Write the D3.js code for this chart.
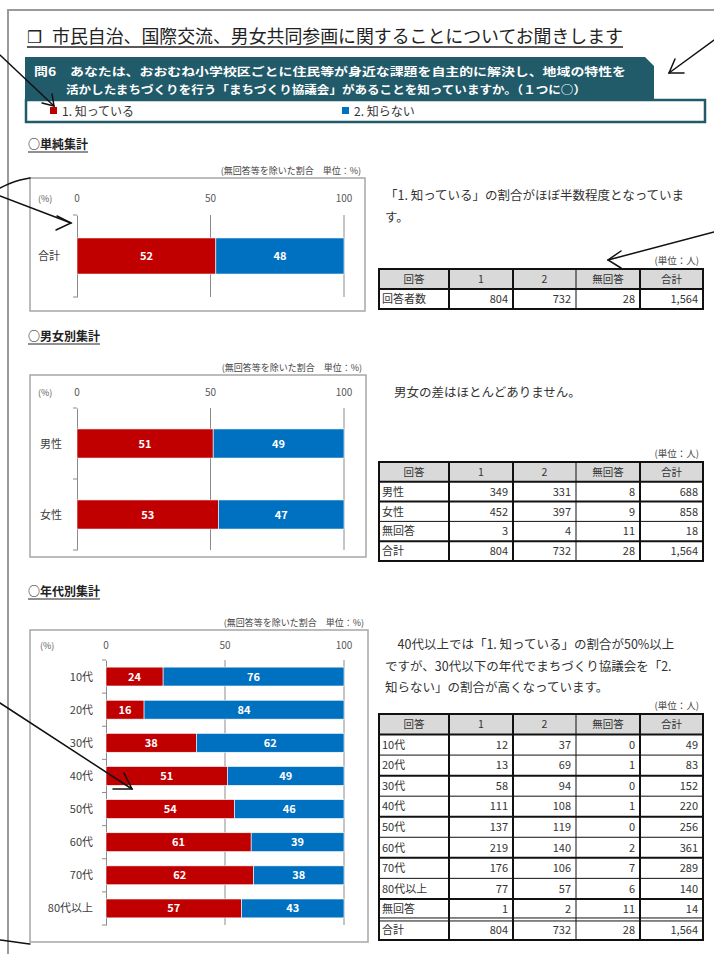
<!DOCTYPE html>
<html><head><meta charset="utf-8">
<script src="https://cdn.jsdelivr.net/npm/d3@7"></script>
<style>
html,body{margin:0;padding:0;background:#fff;}
svg{display:block;font-family:"Noto Sans CJK JP","Noto Sans",sans-serif;}
</style></head><body>
<svg id="page" width="714" height="954"></svg>
<script>
// ---------- data ----------
const titleText = "市民自治、国際交流、男女共同参画に関することについてお聞きします";
const questionLines = ["問6　あなたは、おおむね小学校区ごとに住民等が身近な課題を自主的に解決し、地域の特性を",
                       "活かしたまちづくりを行う「まちづくり協議会」があることを知っていますか。（１つに○）"];
const legendLabels = ["1. 知っている", "2. 知らない"];
const seriesKeys = ["know", "notKnow"];
const seriesColors = ["#c00000", "#0070c0"];
const xTicks = [0, 50, 100];
const noteText = "(無回答等を除いた割合　単位：%)";
const unitText = "(単位：人)";
const sectionTitles = ["○単純集計", "○男女別集計", "○年代別集計"];

const totalCats = ["合計"];
const totalKnow = [52];
const totalNotKnow = [48];

const genderCats = ["男性", "女性"];
const genderKnow = [51, 53];
const genderNotKnow = [49, 47];

const ageCats = ["10代", "20代", "30代", "40代", "50代", "60代", "70代", "80代以上"];
const ageKnow = [24, 16, 38, 51, 54, 61, 62, 57];
const ageNotKnow = [76, 84, 62, 49, 46, 39, 38, 43];

const tableHeader = ["回答", "1", "2", "無回答", "合計"];
const table1Rows = [["回答者数", 804, 732, 28, 1564]];
const table2Rows = [["男性", 349, 331, 8, 688], ["女性", 452, 397, 9, 858], ["無回答", 3, 4, 11, 18], ["合計", 804, 732, 28, 1564]];
const table3Rows = [["10代", 12, 37, 0, 49], ["20代", 13, 69, 1, 83], ["30代", 58, 94, 0, 152], ["40代", 111, 108, 1, 220],
                    ["50代", 137, 119, 0, 256], ["60代", 219, 140, 2, 361], ["70代", 176, 106, 7, 289], ["80代以上", 77, 57, 6, 140],
                    ["無回答", 1, 2, 11, 14], ["合計", 804, 732, 28, 1564]];

const comment1 = ["「1. 知っている」の割合がほぼ半数程度となっていま", "す。"];
const comment2 = ["男女の差はほとんどありません。"];
const comment3 = ["　40代以上では「1. 知っている」の割合が50%以上", "ですが、30代以下の年代でまちづくり協議会を「2.", "知らない」の割合が高くなっています。"];

// ---------- page ----------
const svg = d3.select("#page");
const TEAL = "#215a69";
const TXT = "#333";

// page border
svg.append("path").attr("d", "M8,960 L8,10 L720,10").attr("fill", "none").attr("stroke", "#9a9a9a").attr("stroke-width", 2);

// title
svg.append("text").attr("x", 27).attr("y", 43).attr("font-family", "DejaVu Sans").attr("font-size", 17).attr("fill", "#222").text("❒");
svg.append("text").attr("x", 52).attr("y", 43).attr("font-size", 18).attr("fill", "#222")
  .attr("textLength", 571).attr("lengthAdjust", "spacingAndGlyphs").text(titleText);
svg.append("line").attr("x1", 27).attr("x2", 623).attr("y1", 47).attr("y2", 47).attr("stroke", "#222").attr("stroke-width", 1.3);

// question banner
svg.append("path").attr("d", "M25,57 L645,57 L654,66 L654,101 L25,101 Z").attr("fill", TEAL);
svg.append("rect").attr("x", 26).attr("y", 100).attr("width", 679).attr("height", 22).attr("fill", "#fff").attr("stroke", TEAL).attr("stroke-width", 2.5);
svg.append("text").attr("x", 34).attr("y", 76).attr("font-size", 11.5).attr("font-weight", "bold").attr("fill", "#fff")
  .attr("textLength", 592).attr("lengthAdjust", "spacingAndGlyphs").text(questionLines[0]);
svg.append("text").attr("x", 66).attr("y", 94).attr("font-size", 11.5).attr("font-weight", "bold").attr("fill", "#fff")
  .attr("textLength", 520).attr("lengthAdjust", "spacingAndGlyphs").text(questionLines[1]);

// legend
const legendX = [50, 342];
const lg = svg.append("g").selectAll("g").data(legendLabels).join("g").attr("transform", (d, i) => `translate(${legendX[i]},111)`);
lg.append("rect").attr("x", 0).attr("y", -4).attr("width", 7).attr("height", 7).attr("fill", (d, i) => seriesColors[i]);
lg.append("text").attr("x", 12).attr("y", 5).attr("font-size", 12).attr("fill", TXT).text(d => d);

// section titles
const sectionY = [149, 341, 596];
sectionTitles.forEach((s, i) => {
  const t = svg.append("text").attr("x", 28).attr("y", sectionY[i]).attr("font-size", 12).attr("font-weight", "bold").attr("fill", "#222").text(s);
  const w = t.node().getComputedTextLength();
  svg.append("line").attr("x1", 28).attr("x2", 28 + w).attr("y1", sectionY[i] + 3).attr("y2", sectionY[i] + 3).attr("stroke", "#222").attr("stroke-width", 1);
});

// ---------- charts ----------
function drawChart(cfg, cats, know, notKnow) {
  const g = svg.append("g");
  const [bx0, by0, bx1, by1] = cfg.box;
  g.append("text").attr("x", bx1 - 4).attr("y", by0 - 4).attr("text-anchor", "end").attr("font-size", 9).attr("fill", "#444").text(noteText);
  g.append("rect").attr("x", bx0).attr("y", by0).attr("width", bx1 - bx0).attr("height", by1 - by0)
    .attr("fill", "none").attr("stroke", "#a6a6a6").attr("stroke-width", 1.5);

  const x = d3.scaleLinear().domain([0, 100]).range(cfg.xr);
  const y = d3.scaleBand().domain(cats).range(cfg.yr).paddingInner(cfg.pad).paddingOuter(cfg.pad / 2);

  g.selectAll(".tl").data(xTicks).join("text").attr("x", d => x(d)).attr("y", cfg.tickY)
    .attr("text-anchor", "middle").attr("font-size", 10).attr("fill", "#595959").text(d => d);
  g.append("text").attr("x", cfg.pctX).attr("y", cfg.tickY).attr("font-size", 9).attr("fill", "#595959").text("(%)");

  g.selectAll(".grid").data(xTicks.slice(1)).join("line")
    .attr("x1", d => x(d)).attr("x2", d => x(d)).attr("y1", cfg.yr[0]).attr("y2", cfg.yr[1])
    .attr("stroke", "#8c8c8c").attr("stroke-width", 1);

  // category axis at 0
  const yAxis = d3.axisLeft(y).tickSize(0).tickFormat("");
  const ax = g.append("g").attr("transform", `translate(${x(0)},0)`).call(yAxis);
  ax.select(".domain").attr("stroke", "#8c8c8c");
  g.selectAll(".bt").data(d3.range(cats.length + 1)).join("line")
    .attr("x1", x(0) - 4).attr("x2", x(0)).attr("y1", i => cfg.yr[0] + i * y.step()).attr("y2", i => cfg.yr[0] + i * y.step())
    .attr("stroke", "#8c8c8c");

  const rows = cats.map((c, i) => ({ cat: c, know: know[i], notKnow: notKnow[i] }));
  const stacked = d3.stack().keys(seriesKeys)(rows);
  const layers = g.selectAll(".layer").data(stacked).join("g").attr("fill", (d, i) => seriesColors[i]);
  layers.selectAll("rect").data(d => d).join("rect")
    .attr("x", d => x(d[0])).attr("width", d => x(d[1]) - x(d[0]))
    .attr("y", d => y(d.data.cat)).attr("height", y.bandwidth())
    .attr("stroke", "#fff").attr("stroke-width", 0.6);
  layers.selectAll("text").data(d => d.map(v => ({ v, key: d.key }))).join("text")
    .attr("x", d => (x(d.v[0]) + x(d.v[1])) / 2).attr("y", d => y(d.v.data.cat) + y.bandwidth() / 2 + 4)
    .attr("text-anchor", "middle").attr("font-size", 11).attr("font-weight", "bold").attr("fill", "#fff")
    .text(d => d.v.data[d.key]);

  g.selectAll(".cl").data(cats).join("text")
    .attr("x", cfg.labelX).attr("y", d => y(d) + y.bandwidth() / 2 + 4)
    .attr("text-anchor", cfg.labelAnchor).attr("font-size", 11).attr("fill", "#404040").text(d => d);
}

drawChart({ box: [30, 178, 365, 311], xr: [77, 344], yr: [215, 297], pad: 0.56, tickY: 202, pctX: 38, labelX: 38, labelAnchor: "start" },
  totalCats, totalKnow, totalNotKnow);
drawChart({ box: [30, 375, 366, 557], xr: [77, 344], yr: [408, 550], pad: 0.59, tickY: 396, pctX: 38, labelX: 40, labelAnchor: "start" },
  genderCats, genderKnow, genderNotKnow);
drawChart({ box: [30, 630, 368, 942], xr: [106, 344], yr: [660, 925], pad: 0.43, tickY: 649, pctX: 40, labelX: 93, labelAnchor: "end" },
  ageCats, ageKnow, ageNotKnow);

// ---------- comments ----------
function drawComment(lines, x, y0, dy) {
  svg.append("g").selectAll("text").data(lines).join("text")
    .attr("x", x).attr("y", (d, i) => y0 + i * dy).attr("font-size", 12.5).attr("fill", TXT).text(d => d);
}
drawComment(comment1, 385, 200, 22);
drawComment(comment2, 394, 397, 22);
drawComment(comment3, 385, 649, 21.5);

// ---------- tables ----------
const fmt = d3.format(",");
function drawTable(cfg, rows) {
  const g = svg.append("g");
  const cols = cfg.cols;
  g.append("text").attr("x", cols[cols.length - 1] - 4).attr("y", cfg.top - 5).attr("text-anchor", "end")
    .attr("font-size", 9.5).attr("fill", "#444").text(unitText);
  const keys = ["__header", ...rows.map(r => r[0])];
  const y = d3.scaleBand().domain(keys).range([cfg.top, cfg.bottom]);
  g.append("rect").attr("x", cols[0]).attr("y", cfg.top).attr("width", cols[cols.length - 1] - cols[0]).attr("height", y.bandwidth()).attr("fill", "#d9d9d9");
  g.selectAll(".h").data(tableHeader).join("text")
    .attr("x", (d, i) => (cols[i] + cols[i + 1]) / 2).attr("y", cfg.top + y.bandwidth() / 2 + 4)
    .attr("text-anchor", "middle").attr("font-size", 10.5).attr("fill", TXT).text(d => d);
  const rg = g.selectAll(".r").data(rows).join("g");
  rg.selectAll("text").data(r => r.map((v, i) => ({ v, i, key: r[0] }))).join("text")
    .attr("x", d => d.i === 0 ? cols[0] + 3 : cols[d.i + 1] - 5)
    .attr("y", d => y(d.key) + y.bandwidth() / 2 + 4)
    .attr("text-anchor", d => d.i === 0 ? "start" : "end")
    .attr("font-size", 11).attr("fill", TXT)
    .text(d => d.i === 0 ? d.v : fmt(d.v));
  // horizontal lines
  keys.forEach((k, i) => {
    if (i === 0) return;
    const yy = y(k);
    const thick = cfg.thick.includes(i);
    if (cfg.double && cfg.double.includes(i)) {
      g.append("line").attr("x1", cols[0]).attr("x2", cols[cols.length - 1]).attr("y1", yy - 1.5).attr("y2", yy - 1.5).attr("stroke", "#111").attr("stroke-width", 1);
      g.append("line").attr("x1", cols[0]).attr("x2", cols[cols.length - 1]).attr("y1", yy + 1.5).attr("y2", yy + 1.5).attr("stroke", "#111").attr("stroke-width", 1);
    } else {
      g.append("line").attr("x1", cols[0]).attr("x2", cols[cols.length - 1]).attr("y1", yy).attr("y2", yy).attr("stroke", "#111").attr("stroke-width", thick ? 2 : 1);
    }
  });
  // vertical lines
  cols.forEach((cx, i) => {
    g.append("line").attr("x1", cx).attr("x2", cx).attr("y1", cfg.top).attr("y2", cfg.bottom)
      .attr("stroke", "#111").attr("stroke-width", (i === 3) ? 1 : 2);
  });
  g.append("rect").attr("x", cols[0]).attr("y", cfg.top).attr("width", cols[cols.length - 1] - cols[0]).attr("height", cfg.bottom - cfg.top)
    .attr("fill", "none").attr("stroke", "#111").attr("stroke-width", 2);
}
const tableCols = [379, 449, 513, 576, 640, 703];
drawTable({ cols: tableCols, top: 269, bottom: 309, thick: [1] }, table1Rows);
drawTable({ cols: tableCols, top: 462, bottom: 561, thick: [1, 2, 4] }, table2Rows);
drawTable({ cols: tableCols, top: 714, bottom: 940, thick: [1, 3, 5, 7, 9], double: [10] }, table3Rows);

// ---------- hand-drawn annotation arrows ----------
const arrows = [
  { line: [[0, 55], [54, 106]], head: [[52, 94], [54, 106], [42, 103]] },
  { line: [[714, 40], [669, 73]], head: [[675, 59], [669, 73], [684, 73]] },
  { line: [[0, 196], [71, 223]], head: [[57, 216], [71, 223], [56, 230]] },
  { line: [[714, 232], [608, 260]], head: [[621, 251], [608, 260], [621, 268]] },
  { line: [[0, 703], [132, 789]], head: [[124, 773], [132, 789], [113, 789]] }
];
const curves = [
  [[0, 188], [14, 181], [30, 178]],
  [[0, 940], [15, 942], [30, 944]]
];
const lineGen = d3.line().curve(d3.curveBasis);
const ag = svg.append("g").attr("fill", "none").attr("stroke", "#111").attr("stroke-width", 1.5).attr("stroke-linecap", "round");
arrows.forEach(a => {
  ag.append("path").attr("d", d3.line()(a.line));
  ag.append("path").attr("d", d3.line()(a.head));
});
curves.forEach(c => ag.append("path").attr("d", lineGen(c)));
</script>
</body></html>
